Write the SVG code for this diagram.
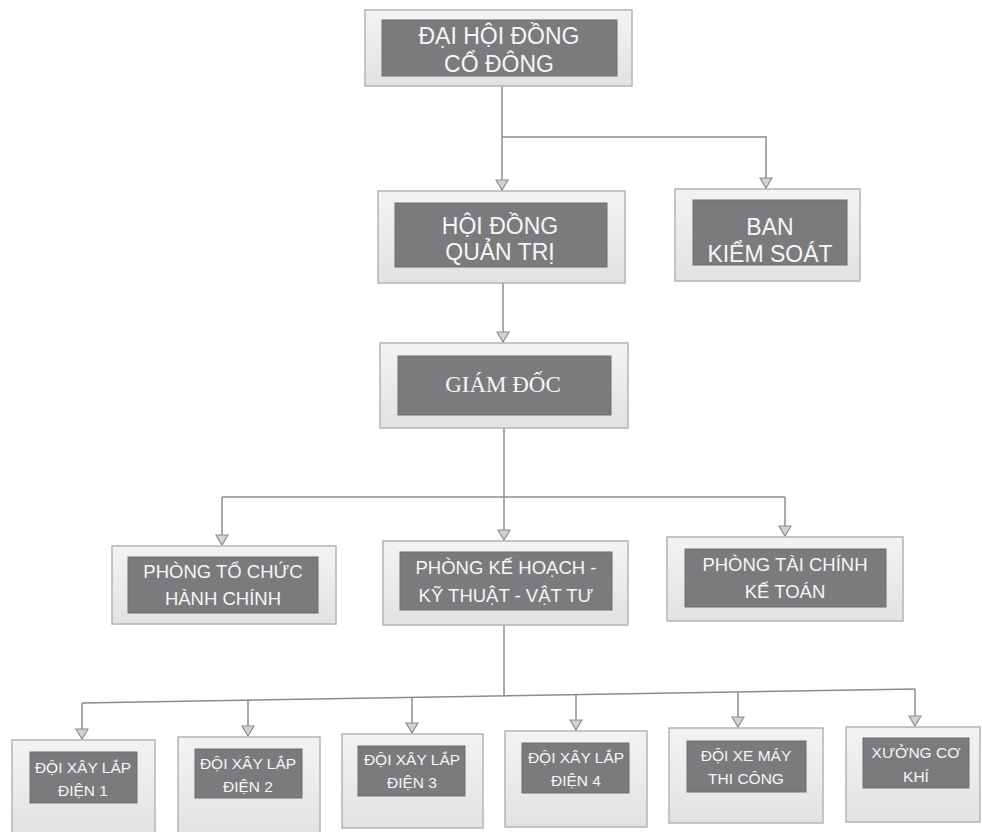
<svg xmlns="http://www.w3.org/2000/svg" width="982" height="832" viewBox="0 0 982 832">
<defs>
<linearGradient id="frameG" x1="0" y1="0" x2="0" y2="1">
<stop offset="0" stop-color="#f3f3f3"/>
<stop offset="1" stop-color="#e2e2e2"/>
</linearGradient>
<marker id="arr" viewBox="0 0 12 14" refX="11" refY="7" markerWidth="12" markerHeight="14" markerUnits="userSpaceOnUse" orient="auto">
<path d="M1,1 L11,7 L1,13 Z" fill="#d2d2d2" stroke="#8c8c8c" stroke-width="1.2"/>
</marker>
</defs>
<style>
.frame{fill:url(#frameG);stroke:#b4b4b4;stroke-width:1.5}
.inner{fill:#7b7b7d;stroke:#6e6e70;stroke-width:1}
.t{fill:#f6f6f6;font-family:"Liberation Sans",Arial,sans-serif;text-anchor:middle}
.big{font-size:23px}
.mid{font-size:18.5px}
.small{font-size:15.5px}
.serif{font-family:"Liberation Serif","Times New Roman",serif;font-size:23px}
.c{fill:none;stroke:#8c8c8c;stroke-width:1.5}
</style>
<rect width="982" height="832" fill="#ffffff"/>

<g id="connectors">
<path class="c" d="M502,86 L502,190" marker-end="url(#arr)"/>
<path class="c" d="M502,137 L766,137 L766,188" marker-end="url(#arr)"/>
<path class="c" d="M503,283 L503,342" marker-end="url(#arr)"/>
<path class="c" d="M504,427 L504,540" marker-end="url(#arr)"/>
<path class="c" d="M222,497 L785,497"/>
<path class="c" d="M222,497 L222,545" marker-end="url(#arr)"/>
<path class="c" d="M785,497 L785,536" marker-end="url(#arr)"/>
<path class="c" d="M504,625 L504,696"/>
<path class="c" d="M82,703 L915,689"/>
<path class="c" d="M82,703 L82,739" marker-end="url(#arr)"/>
<path class="c" d="M248,700 L248,736" marker-end="url(#arr)"/>
<path class="c" d="M412,697.5 L412,733" marker-end="url(#arr)"/>
<path class="c" d="M576,694.7 L576,730" marker-end="url(#arr)"/>
<path class="c" d="M738,692 L738,727" marker-end="url(#arr)"/>
<path class="c" d="M915,689 L915,726" marker-end="url(#arr)"/>
</g>

<g id="dhdcd">
<rect class="frame" x="365" y="10" width="267" height="76"/>
<rect class="inner" x="382" y="20" width="235" height="56"/>
<text class="t big" x="499" y="44">ĐẠI HỘI ĐỒNG</text>
<text class="t big" x="499" y="72">CỔ ĐÔNG</text>
</g>

<g id="hdqt">
<rect class="frame" x="378" y="191" width="247" height="92"/>
<rect class="inner" x="395" y="203" width="212" height="64"/>
<text class="t big" x="500" y="234">HỘI ĐỒNG</text>
<text class="t big" x="500" y="260">QUẢN TRỊ</text>
</g>

<g id="bks">
<rect class="frame" x="675" y="189" width="185" height="92"/>
<rect class="inner" x="693" y="200" width="154" height="65"/>
<text class="t big" x="770" y="235">BAN</text>
<text class="t big" x="770" y="262">KIỂM SOÁT</text>
</g>

<g id="gd">
<rect class="frame" x="380" y="343" width="248" height="85"/>
<rect class="inner" x="398" y="356" width="213" height="59"/>
<text class="t serif" x="503" y="392">GIÁM ĐỐC</text>
</g>

<g id="ptchc">
<rect class="frame" x="112" y="546" width="224" height="78"/>
<rect class="inner" x="128" y="557" width="190" height="56"/>
<text class="t mid" x="223" y="578">PHÒNG TỔ CHỨC</text>
<text class="t mid" x="223" y="605">HÀNH CHÍNH</text>
</g>

<g id="pkh">
<rect class="frame" x="383" y="541" width="245" height="84"/>
<rect class="inner" x="400" y="552" width="212" height="58"/>
<text class="t mid" x="506" y="574">PHÒNG KẾ HOẠCH -</text>
<text class="t mid" x="506" y="602">KỸ THUẬT - VẬT TƯ</text>
</g>

<g id="ptckt">
<rect class="frame" x="667" y="537" width="236" height="84"/>
<rect class="inner" x="685" y="549" width="201" height="58"/>
<text class="t mid" x="785" y="571">PHÒNG TÀI CHÍNH</text>
<text class="t mid" x="785" y="598">KẾ TOÁN</text>
</g>

<g id="dxl1">
<rect class="frame" x="12" y="740" width="143" height="96"/>
<rect class="inner" x="30" y="752" width="107" height="51"/>
<text class="t small" x="83" y="773">ĐỘI XÂY LẮP</text>
<text class="t small" x="83" y="796">ĐIỆN 1</text>
</g>

<g id="dxl2">
<rect class="frame" x="178" y="737" width="142" height="99"/>
<rect class="inner" x="195" y="749" width="107" height="49"/>
<text class="t small" x="248" y="769">ĐỘI XÂY LẮP</text>
<text class="t small" x="248" y="792">ĐIỆN 2</text>
</g>

<g id="dxl3">
<rect class="frame" x="342" y="734" width="141" height="94"/>
<rect class="inner" x="358" y="746" width="107" height="50"/>
<text class="t small" x="412" y="765">ĐỘI XÂY LẮP</text>
<text class="t small" x="412" y="788">ĐIỆN 3</text>
</g>

<g id="dxl4">
<rect class="frame" x="505" y="731" width="142" height="96"/>
<rect class="inner" x="522" y="743" width="107" height="50"/>
<text class="t small" x="576" y="763">ĐỘI XÂY LẮP</text>
<text class="t small" x="576" y="786">ĐIỆN 4</text>
</g>

<g id="dxm">
<rect class="frame" x="669" y="728" width="154" height="95"/>
<rect class="inner" x="687" y="741" width="119" height="51"/>
<text class="t small" x="746" y="761">ĐỘI XE MÁY</text>
<text class="t small" x="746" y="784">THI CÔNG</text>
</g>

<g id="xck">
<rect class="frame" x="846" y="727" width="134" height="95"/>
<rect class="inner" x="863" y="738" width="106" height="50"/>
<text class="t small" x="916" y="758">XƯỞNG CƠ</text>
<text class="t small" x="916" y="782">KHÍ</text>
</g>
</svg>
